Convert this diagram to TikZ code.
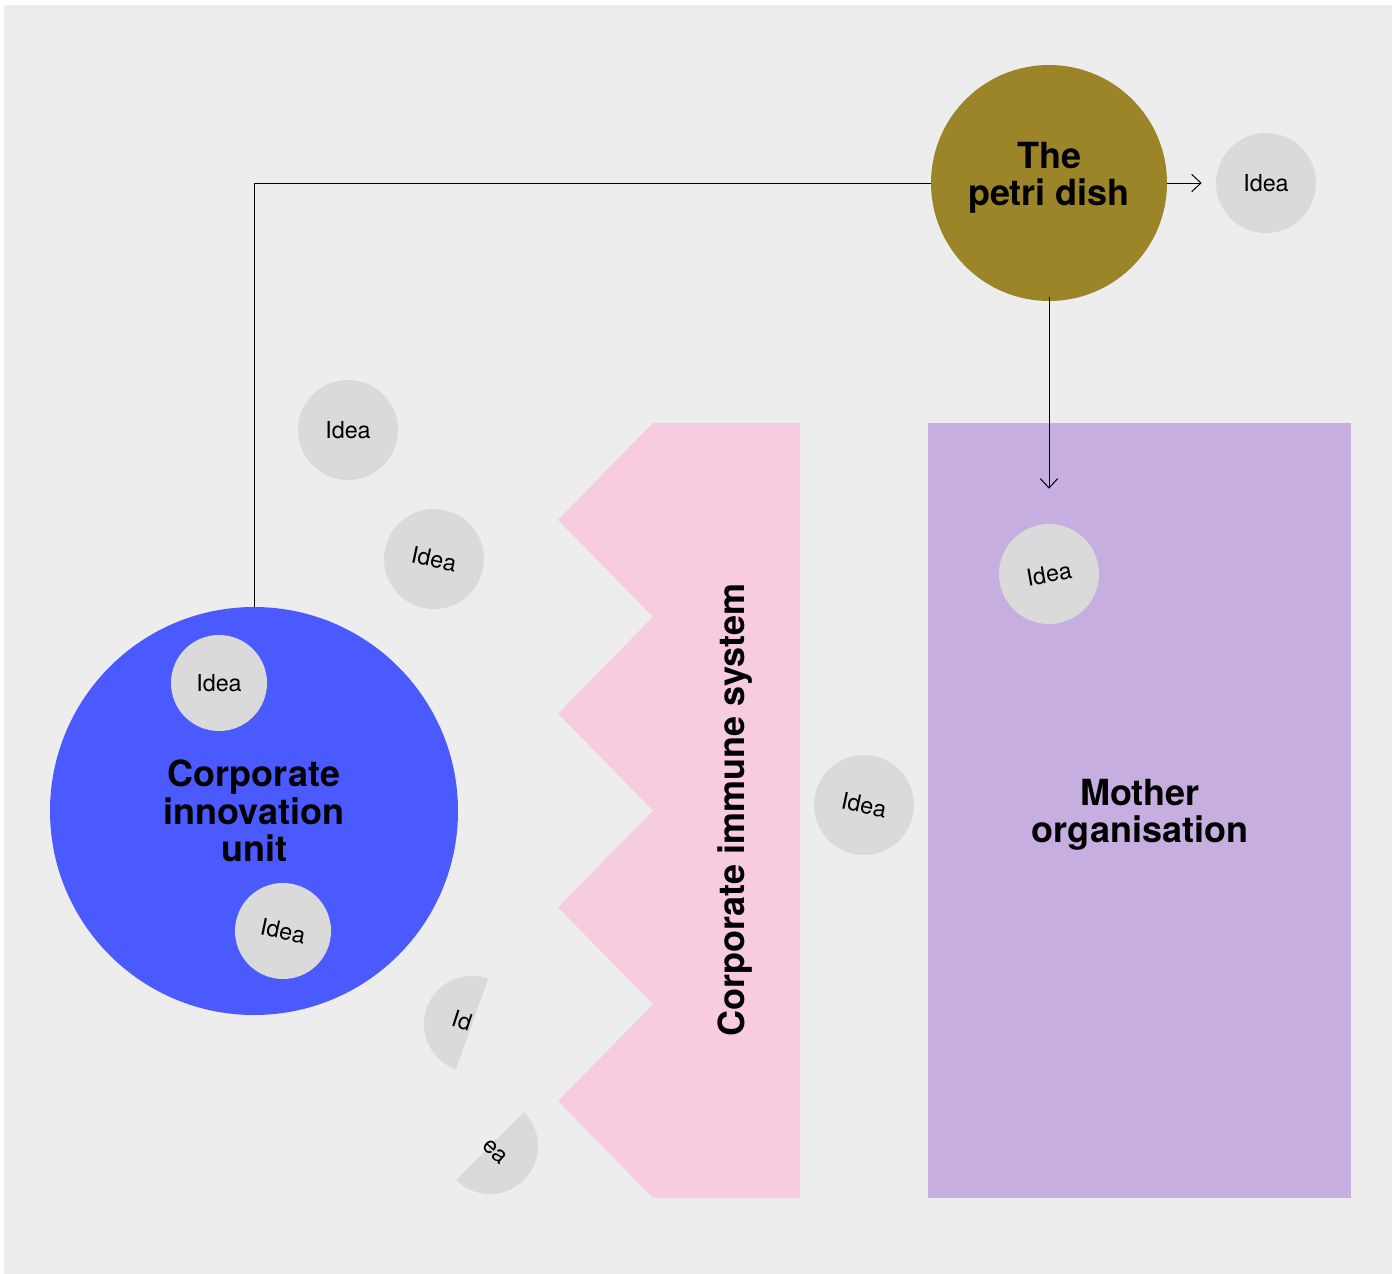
\documentclass[tikz,border=0pt]{standalone}
\usepackage{fontspec}
\setmainfont{TeX Gyre Heros}
\usepackage{xcolor}
\usepackage{tikz}
\usetikzlibrary{positioning,calc,arrows.meta,shapes.geometric}
\definecolor{paper}{HTML}{EDEDED}
\definecolor{ideagray}{HTML}{DADADA}
\definecolor{petrigold}{HTML}{9C8529}
\definecolor{unitblue}{HTML}{4A5AFF}
\definecolor{immunepink}{HTML}{F8CCE0}
\definecolor{motherlilac}{HTML}{C6AEE0}
\begin{document}
\begin{tikzpicture}[x=0.75pt,y=-0.75pt,
	idea/.style={circle,fill=ideagray,minimum size=75pt,inner sep=0pt,font=\fontsize{17.5}{20}\selectfont},
	title/.style={font=\fontsize{27}{28}\selectfont\bfseries,align=center,text=black},
	link/.style={line width=0.75pt,-{Straight Barb[length=7pt,width=13pt]}}]
							\def\zx{558}
							\def\zw{95}
							\def\zh{96.875}
							\useasboundingbox (0,0) rectangle (1392,1274);
							\fill[white] (0,0) rectangle (1392,1274);
							\fill[paper] (4,5) rectangle (1392,1274);
							
							% mother organisation
							\node[rectangle,fill=motherlilac,minimum width=317.25pt,minimum height=581.25pt,inner sep=0pt] (mother) at (1139.5,810.5) {};
							\node[title] (mothertext) at (1140,815) {Mother\\organisation};
							% immune system: zigzag wall
							\fill[immunepink] (800,423) -- (\zx+\zw,423)
								-- (\zx,423+\zh) -- (\zx+\zw,423+2*\zh)
								-- (\zx,423+3*\zh) -- (\zx+\zw,423+4*\zh)
								-- (\zx,423+5*\zh) -- (\zx+\zw,423+6*\zh)
								-- (\zx,423+7*\zh) -- (\zx+\zw,1198) -- (800,1198) -- cycle;
							\node[title,rotate=90] (immune) at (735,810) {Corporate immune system};
							
							% petri dish
							\node[circle,fill=petrigold,minimum size=177pt,inner sep=0pt] (petri) at (1049,183) {};
							\node[title] (petritext) at (1049,178) {The\\petri dish};
							\node[idea] (ideaout) at (1266,183) {Idea};
							% innovation unit
							\node[circle,fill=unitblue,minimum size=306pt,inner sep=0pt,title] (unit) at (254,811) {Corporate\\innovation\\unit};
							\node[idea,minimum size=72pt] (ideaunita) at (219,683) {Idea};
							\node[idea,minimum size=72pt,rotate=-12] (ideaunitb) at (283,931) {Idea};
							
							% ideas on their way
							\node[idea] (ideaa) at (348,430) {Idea};
							\node[idea,rotate=-12] (ideab) at (434,559) {Idea};
							\node[idea,rotate=-12] (ideac) at (864,805) {Idea};
							\node[idea,rotate=10] (ideamom) at (1049,574) {Idea};
							
							% the broken one
							\fill[ideagray] (472,1024) +(109.6:48) arc[start angle=109.6,end angle=289.6,radius=48] -- cycle;
							\node[font=\fontsize{17.5}{20}\selectfont,rotate=-18] (brokenid) at (462,1021) {Id};
							\fill[ideagray] (490,1146) +(-45:48) arc[start angle=-45,end angle=135,radius=48] -- cycle;
							\node[font=\fontsize{17.5}{20}\selectfont,rotate=-42] (brokenea) at (495,1152) {ea};
							
							% connectors
							\draw[line width=0.75pt] (petri.west) -| (unit.north);
							\draw[link,shorten >=10.5pt] (petri.east) -- (ideaout.west);
							\draw[link,shorten <=-3pt,shorten >=64pt] (petri.south) -- (ideamom.center);
							\end{tikzpicture}
\end{document}
